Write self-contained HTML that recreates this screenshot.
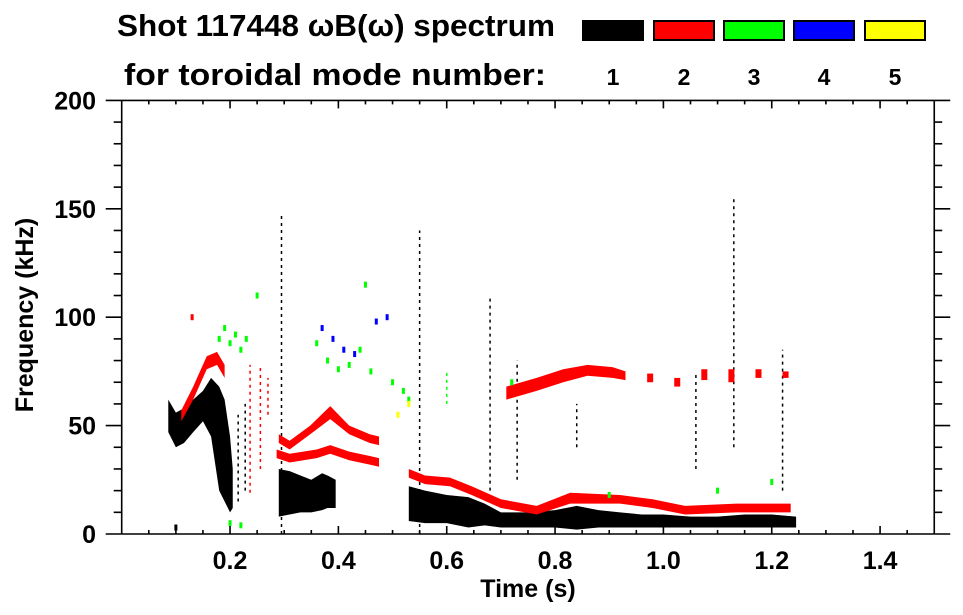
<!DOCTYPE html>
<html><head><meta charset="utf-8"><style>
body{margin:0;background:#fff}
svg{display:block;font-family:"Liberation Sans",sans-serif;font-weight:bold}
</style></head><body>
<svg id="chart" width="963" height="615" viewBox="0 0 963 615">
<g>
<text x="117" y="36" font-size="31" textLength="438" lengthAdjust="spacingAndGlyphs">Shot 117448 ωB(ω) spectrum</text>
<text x="124" y="85" font-size="31" textLength="422" lengthAdjust="spacingAndGlyphs">for toroidal mode number:</text>
</g>
<g id="legend"></g>
<g id="marks"></g>
<g id="axes"></g>
<text x="528" y="597" font-size="25" text-anchor="middle">Time (s)</text>
<text transform="translate(33,315) rotate(-90)" font-size="25" text-anchor="middle">Frequency (kHz)</text>
</svg>
<script>
const modeLabels=["1","2","3","4","5"];
const modeColors=["#000000","#ff0000","#00ff00","#0000ff","#ffff00"];
const xTickLabels=["0.2","0.4","0.6","0.8","1.0","1.2","1.4"];
const xTickValues=[0.2,0.4,0.6,0.8,1.0,1.2,1.4];
const yTickValues=[0,50,100,150,200];
// bands: [t, fLow, fHigh]
const blackEarly=[[0.086,47,62],[0.10,40,56],[0.115,42,58],[0.132,47,62],[0.15,52,66],[0.165,45,72],[0.18,20,68],[0.19,15,62],[0.2,10,45],[0.205,12,30]];
const blackMid=[[0.29,8,30],[0.31,9,29],[0.33,10,27],[0.35,10,25],[0.37,11,28],[0.38,12,27],[0.395,12,25]];
const blackLate=[[0.53,6,22],[0.56,5,20],[0.6,5,18],[0.64,3,17],[0.67,4,14],[0.7,3,10],[0.75,3,10],[0.8,3,11],[0.84,2,13],[0.88,3,11],[0.92,3,10],[0.96,3,9],[1.0,3,9],[1.05,3,8],[1.1,3,8],[1.15,3,9],[1.2,3,9],[1.245,3,8]];
const redEarly=[[0.11,52,57],[0.132,62,68],[0.157,76,82],[0.176,78,84],[0.19,72,78]];
const redLowerMid=[[0.286,35,39],[0.31,33,37],[0.36,35,39],[0.385,37,41],[0.42,34,38],[0.458,32,36],[0.475,31,35]];
const redUpperMid=[[0.29,42,46],[0.31,39,43],[0.348,46,50],[0.385,53,59],[0.42,46,50],[0.458,42,46],[0.475,41,45]];
const redMain=[[0.53,26,30],[0.56,23,27],[0.606,22,26],[0.646,18,22],[0.70,12,16],[0.766,9,13],[0.828,14,19],[0.92,14,18],[0.98,12,16],[1.04,9,13],[1.135,10,14],[1.235,10,14]];
const redUpper=[[0.71,62,68],[0.766,66,72],[0.815,70,76],[0.86,73,78],[0.906,72,77],[0.93,71,75]];
// vertical streaks: [t, fLow, fHigh, colorIndex]
const streaks=[[0.237,19,78,1],[0.256,30,78,1],[0.27,55,72,1],[0.228,20,60,0],[0.215,15,55,0],[0.295,0,147,0],[0.55,0,140,0],[0.68,20,110,0],[0.73,25,80,0],[1.13,40,155,0],[1.22,20,85,0],[0.84,40,60,0],[1.06,30,75,0],[0.60,60,75,2]];
// specks/clusters: [t, f, colorIndex]
const specks=[[0.18,90,2],[0.19,95,2],[0.2,88,2],[0.21,92,2],[0.22,85,2],[0.23,90,2],[0.36,88,2],[0.38,80,2],[0.4,76,2],[0.42,78,2],[0.44,85,2],[0.46,75,2],[0.5,70,2],[0.52,66,2],[0.53,62,2],[0.37,95,3],[0.39,90,3],[0.41,85,3],[0.43,83,3],[0.47,98,3],[0.49,100,3],[0.51,55,4],[0.53,60,4],[0.2,5,2],[0.22,4,2],[0.1,3,0],[0.72,70,2],[0.13,100,1],[0.25,110,2],[0.45,115,2],[0.9,18,2],[1.1,20,2],[1.2,24,2]];

const X0=121.7,XS=541.7,Y0=534,YS=2.168;
const sx=t=>X0+t*XS, sy=f=>Y0-f*YS;
const NS="http://www.w3.org/2000/svg";
const marks=document.getElementById('marks');
function band(data,color,name){
  const up=data.map(d=>sx(d[0])+","+sy(d[2]));
  const lo=data.slice().reverse().map(d=>sx(d[0])+","+sy(d[1]));
  const p=document.createElementNS(NS,'polygon');
  p.setAttribute('points',up.concat(lo).join(' '));
  p.setAttribute('fill',color);
  
  
  marks.appendChild(p);
}
streaks.forEach(s=>{
  const l=document.createElementNS(NS,'line');
  l.setAttribute('x1',sx(s[0]));l.setAttribute('x2',sx(s[0]));
  l.setAttribute('y1',sy(s[1]));l.setAttribute('y2',sy(s[2]));
  l.setAttribute('stroke',modeColors[s[3]]);l.setAttribute('stroke-width','1.5');
  l.setAttribute('stroke-dasharray','3 4');
  
  
  marks.appendChild(l);
});
band(blackEarly,"#000","n1-band-early");
band(blackMid,"#000","n1-band-mid");
band(blackLate,"#000","n1-band-late");
band(redEarly,"#f00","n2-band-early");
band(redLowerMid,"#f00","n2-band-lower-mid");
band(redUpperMid,"#f00","n2-band-upper-mid");
band(redMain,"#f00","n2-band-main");
band(redUpper,"#f00","n2-band-upper");
[[0.97,70,74],[1.02,68,72],[1.07,71,76],[1.12,70,76],[1.17,72,76],[1.22,72,75]].forEach(d=>{
  const r=document.createElementNS(NS,'rect');
  r.setAttribute('x',sx(d[0]));r.setAttribute('y',sy(d[2]));
  r.setAttribute('width',6);r.setAttribute('height',sy(d[1])-sy(d[2]));
  r.setAttribute('fill','#f00');
  
  
  marks.appendChild(r);
});
specks.forEach(s=>{
  const r=document.createElementNS(NS,'rect');
  r.setAttribute('x',sx(s[0])-1.5);r.setAttribute('y',sy(s[1])-3);
  r.setAttribute('width',3);r.setAttribute('height',6);
  r.setAttribute('fill',modeColors[s[2]]);
  
  
  marks.appendChild(r);
});

const lg=document.getElementById('legend');
const boxX=[582,653,723,793,864];
modeLabels.forEach((m,i)=>{
  const r=document.createElementNS(NS,'rect');
  r.setAttribute('x',boxX[i]+1);r.setAttribute('y',21);r.setAttribute('width',60);r.setAttribute('height',19);
  r.setAttribute('fill',modeColors[i]);r.setAttribute('stroke','#000');r.setAttribute('stroke-width','2');
  
  
  lg.appendChild(r);
  const t=document.createElementNS(NS,'text');
  t.setAttribute('x',boxX[i]+31);t.setAttribute('y',85);t.setAttribute('font-size','23');t.setAttribute('text-anchor','middle');
  t.textContent=m;
  
  
  lg.appendChild(t);
});

const ax=document.getElementById('axes');
function ln(x1,y1,x2,y2,name){
  const l=document.createElementNS(NS,'line');
  l.setAttribute('x1',x1);l.setAttribute('y1',y1);l.setAttribute('x2',x2);l.setAttribute('y2',y2);
  l.setAttribute('stroke','#000');l.setAttribute('stroke-width','1.6');
  
  
  ax.appendChild(l);
}
const L=sx(0),R=sx(1.5),T=sy(200),B=sy(0);
ln(L,T,R,T,'top-axis');ln(L,B,R,B,'bottom-axis');ln(L,T,L,B,'left-axis');ln(R,T,R,B,'right-axis');
for(let k=1;k<30;k++){
  const t=k*0.05,x=sx(t),major=(k%4===0);
  const len=major?8:4;
  ln(x,B,x,B-len,'x-tick');ln(x,T,x,T+len,'x-tick-top');
}
for(let k=0;k<=20;k++){
  const y=sy(k*10),major=(k%5===0),len=major?16:8;
  ln(L,y,L-len,y,'y-tick');ln(R,y,R+len,y,'y-tick-right');
}
xTickValues.forEach((v,i)=>{
  const t=document.createElementNS(NS,'text');
  t.setAttribute('x',sx(v));t.setAttribute('y',569);t.setAttribute('font-size','25');t.setAttribute('text-anchor','middle');
  t.textContent=xTickLabels[i];
  
  
  ax.appendChild(t);
});
yTickValues.forEach(v=>{
  const t=document.createElementNS(NS,'text');
  t.setAttribute('x',96);t.setAttribute('y',sy(v)+9);t.setAttribute('font-size','25');t.setAttribute('text-anchor','end');
  t.textContent=String(v);
  
  
  ax.appendChild(t);
});
</script>
</body></html>
